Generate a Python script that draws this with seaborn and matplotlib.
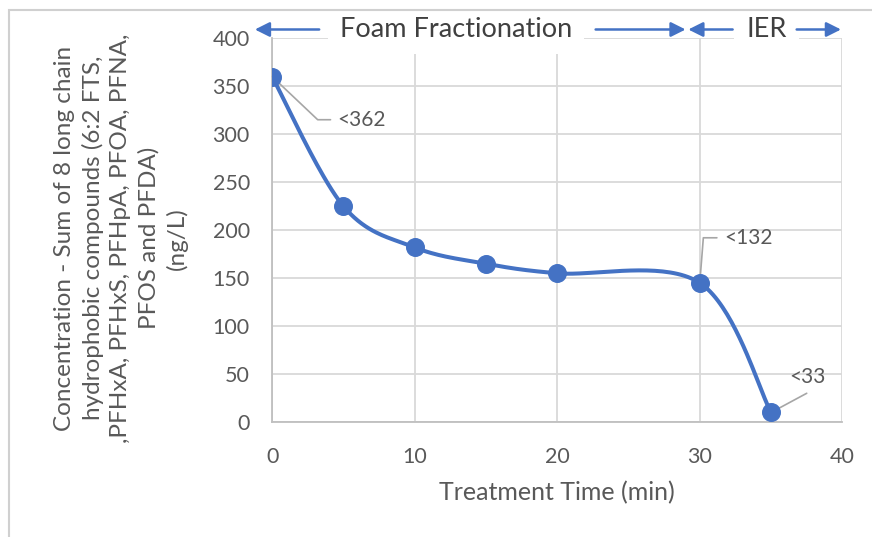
import numpy as np
import pandas as pd
import seaborn as sns
import matplotlib.pyplot as plt
from matplotlib.patches import Rectangle

# Data
time_min = [0, 5, 10, 15, 20, 30, 35]
conc = [360, 225, 182, 165, 155, 145, 10]
labels = {0: "<362", 30: "<132", 35: "<33"}
x_ticks = [0, 10, 20, 30, 40]
y_ticks = [0, 50, 100, 150, 200, 250, 300, 350, 400]

blue = "#4472C4"
grey_txt = "#595959"
grid_c = "#D9D9D9"


def smooth_curve(x, y, steps=40):
    # Excel-style smoothed line (Catmull-Rom through the points)
    x = np.asarray(x, float)
    y = np.asarray(y, float)
    px = np.concatenate([[x[0]], x, [x[-1]]])
    py = np.concatenate([[y[0]], y, [y[-1]]])
    xs, ys = [], []
    t = np.linspace(0, 1, steps)
    for i in range(1, len(px) - 2):
        for p, out in ((px, xs), (py, ys)):
            p0, p1, p2, p3 = p[i - 1], p[i], p[i + 1], p[i + 2]
            c1 = p1 + (p2 - p0) / 6
            c2 = p2 - (p3 - p1) / 6
            b = ((1 - t) ** 3 * p1 + 3 * (1 - t) ** 2 * t * c1
                 + 3 * (1 - t) * t ** 2 * c2 + t ** 3 * p2)
            out.extend(b)
    return np.array(xs), np.array(ys)


sns.set_style("white")
plt.rcParams['font.family'] = ['Lato', 'DejaVu Sans']

fig = plt.figure(figsize=(8.72, 5.37), dpi=100)
ax = fig.add_axes([0.312, 0.214, 0.654, 0.715])

# chart border (right and bottom edges fall outside the picture)
fig.patches.append(Rectangle((0.0105, -0.2), 1.5, 0.981 + 0.2, transform=fig.transFigure,
                             fill=False, edgecolor="#D0D0D0", linewidth=1.5))

sx, sy = smooth_curve(time_min, conc)
ax.plot(sx, sy, color=blue, linewidth=2.9, zorder=3)
df = pd.DataFrame({"t": time_min, "c": conc})
sns.scatterplot(data=df, x="t", y="c", ax=ax, color=blue, s=160,
                edgecolor=blue, zorder=4, legend=False)

ax.set_xlim(0, 40)
ax.set_ylim(0, 400)
ax.set_xticks(x_ticks)
ax.set_yticks(y_ticks)
ax.grid(True, color=grid_c, linewidth=1.3)
ax.set_axisbelow(True)
for s in ["top", "right"]:
    ax.spines[s].set_visible(False)
ax.spines["left"].set_color("#BFBFBF")
ax.spines["bottom"].set_color("#BFBFBF")
ax.spines["left"].set_linewidth(1.3)
ax.spines["bottom"].set_linewidth(1.3)
ax.tick_params(colors=grey_txt, labelsize=15.5, length=0)
ax.tick_params(axis="y", pad=16)
ax.tick_params(axis="x", pad=18)

ax.set_xlabel("Treatment Time (min)", fontsize=18, color=grey_txt, labelpad=10)
ax.set_ylabel("")
ax.text(-0.265, 0.479,
        "Concentration - Sum of 8 long chain\nhydrophobic compounds (6:2 FTS,\n"
        ",PFHxA, PFHxS, PFHpA, PFOA, PFNA,\nPFOS and PFDA)\n(ng/L)",
        transform=ax.transAxes, rotation=90, ha="center", va="center",
        fontsize=17.5, color=grey_txt, linespacing=1.38)

# data labels with leader lines
lead = "#A6A6A6"
ax.plot([0, 3.2, 4.1], [360, 315, 315], color=lead, lw=1.2, zorder=2, clip_on=False)
ax.text(4.6, 315, labels[0], fontsize=15, color=grey_txt, va="center")
ax.plot([30, 30.25, 31.2], [145, 192, 192], color=lead, lw=1.2, zorder=2, clip_on=False)
ax.text(31.7, 192, labels[30], fontsize=15, color=grey_txt, va="center")
ax.plot([35, 37.5], [10, 30], color=lead, lw=1.2, zorder=2, clip_on=False)
ax.text(36.3, 47, labels[35], fontsize=15, color=grey_txt, va="center")

# phase arrows above the plot
ay = 409
akw = dict(arrowstyle="-|>", color=blue, lw=1.8, mutation_scale=22)
ax.text(12.9, ay, "Foam Fractionation", fontsize=19.5, color="#404040",
        ha="center", va="center", clip_on=False, zorder=5,
        bbox=dict(boxstyle="square,pad=0.45", fc="white", ec="none"))
ax.text(34.7, ay, "IER", fontsize=19.5, color="#404040", ha="center", va="center",
        clip_on=False, zorder=5,
        bbox=dict(boxstyle="square,pad=0.45", fc="white", ec="none"))
ax.annotate("", xy=(-1.4, ay), xytext=(3.5, ay), arrowprops=akw,
            annotation_clip=False, zorder=6)
ax.annotate("", xy=(29.2, ay), xytext=(22.5, ay), arrowprops=akw,
            annotation_clip=False, zorder=6)
ax.annotate("", xy=(29.0, ay), xytext=(32.5, ay), arrowprops=akw,
            annotation_clip=False, zorder=6)
ax.annotate("", xy=(40.1, ay), xytext=(36.6, ay), arrowprops=akw,
            annotation_clip=False, zorder=6)

fig.savefig("out.png", dpi=100)
